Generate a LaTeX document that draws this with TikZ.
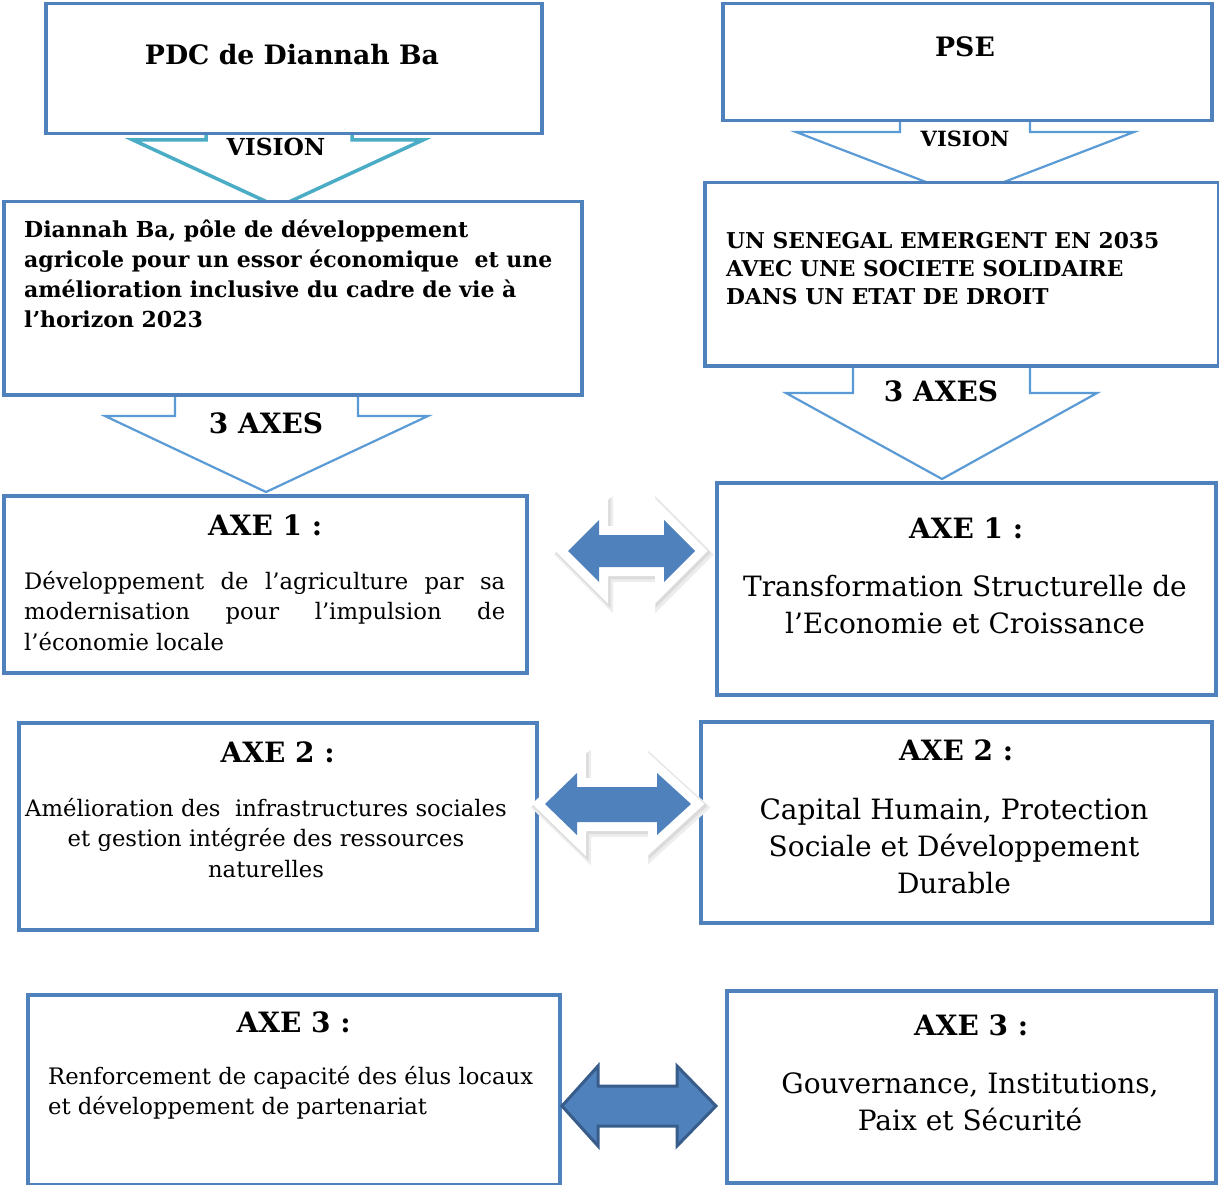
\documentclass[tikz,border=0pt]{standalone}
\usepackage{fontspec}
\setmainfont{DejaVu Serif}
\usepackage{tikz}
\usetikzlibrary{positioning,backgrounds}
\definecolor{bleubord}{HTML}{4F81BD}
\definecolor{bleuclair}{HTML}{5B9BD5}
\definecolor{turquoise}{HTML}{4BACC6}
\definecolor{bleufonce}{HTML}{385D8A}
\tikzset{
    cadre/.style={
        rectangle,
        draw=bleubord, % bordure bleue
        fill=white,
        line width=3.5pt,
        anchor=north west,
        inner sep=0
    },
    titre/.style={
        inner sep=0,
        font=\bfseries\fontsize{28}{32}\selectfont
    },
    gras/.style={
        inner sep=0,
        align=left,
        font=\bfseries\fontsize{22}{30}\selectfont
    },
    texteg/.style={
        inner sep=0,
        font=\fontsize{22.7}{30.5}\selectfont
    },
    texted/.style={
        inner sep=0,
        align=center,
        font=\fontsize{28}{37}\selectfont
    },
    descente/.style={
        draw=bleuclair,
        fill=white,
        line width=2.2pt
    },
    flechedouble/.style={
        fill=bleubord,
        line join=miter,
        preaction={draw=black!7, line width=23pt, line join=miter,
            transform canvas={shift={(2.5pt,-3.5pt)}}},
        preaction={draw=black!14, line width=20pt, line join=miter,
            transform canvas={shift={(1.5pt,-2pt)}}},
        preaction={draw=white, line width=18pt, line join=miter}
    }
}
\begin{document}
\begin{tikzpicture}[x=1pt, y=-1pt]
    \useasboundingbox (0,0) rectangle (1219,1185);
    % cadres PDC
    \node[cadre, minimum width=496pt, minimum height=130pt] (pdc) at (44,2) {};
    \node[cadre, minimum width=578pt, minimum height=193pt] (visiong) at (2,200) {};
    \node[cadre, minimum width=523pt, minimum height=177pt] (axeg1) at (2,494) {};
    \node[cadre, minimum width=518pt, minimum height=207pt] (axeg2) at (17,721) {};
    \node[cadre, minimum width=532pt, minimum height=190pt] (axeg3) at (26,993) {};
    % cadres PSE
    \node[cadre, minimum width=489pt, minimum height=117pt] (pse) at (721,2) {};
    \node[cadre, minimum width=514pt, minimum height=183pt] (visiond) at (703,181) {};
    \node[cadre, minimum width=499pt, minimum height=212pt] (axed1) at (715,481) {};
    \node[cadre, minimum width=511pt, minimum height=201pt] (axed2) at (699,720) {};
    \node[cadre, minimum width=489pt, minimum height=192pt] (axed3) at (725,989) {};

    % fleches vers le bas
    \begin{pgfonlayer}{background}
        \draw[descente, draw=turquoise, line width=3.5pt] (206,120) -- (206,140) -- (133,140) -- (278,207)
            -- (423,140) -- (352,140) -- (352,120) -- cycle;
        \draw[descente] (900,110) -- (900,132) -- (796,132) -- (965,197)
            -- (1134,132) -- (1030,132) -- (1030,110) -- cycle;
        \draw[descente] (175,385) -- (175,416) -- (105,416) -- (266,492)
            -- (428,416) -- (358,416) -- (358,385) -- cycle;
        \draw[descente] (853,355) -- (853,393) -- (786,393) -- (942,479)
            -- (1097,393) -- (1030,393) -- (1030,355) -- cycle;
    \end{pgfonlayer}

    % textes PDC
    \node[titre, font=\bfseries\fontsize{26.7}{30}\selectfont] (tpdc) at (292,55) {PDC de Diannah Ba};
    \node[titre, font=\bfseries\fontsize{23.4}{26}\selectfont] (vg) at (276,147) {VISION};
    \node[gras, anchor=north west] (tvg) at (24,220) {Diannah Ba, pôle de développement\\
        agricole pour un essor économique \ et une\\
        amélioration inclusive du cadre de vie à\\
        l’horizon 2023};
    \node[titre] (ag) at (266,423) {3 AXES};
    \node[titre] (tg1) at ([yshift=-31pt]axeg1.north) {AXE 1 :};
    \node[texteg, anchor=west, text width=481pt, align=justify] (dg1) at (24,611)
        {Développement de l’agriculture par sa\linebreak
        modernisation pour l’impulsion de\linebreak
        l’économie locale};
    \node[titre] (tg2) at ([yshift=-31pt]axeg2.north) {AXE 2 :};
    \node[texteg, align=center] (dg2) at (266,838) {Amélioration des \ infrastructures sociales\\
        et gestion intégrée des ressources\\ naturelles};
    \node[titre] (tg3) at ([yshift=-29pt]axeg3.north) {AXE 3 :};
    \node[texteg, anchor=west, align=left] (dg3) at (48,1093) {Renforcement de capacité des élus locaux\\
        et développement de partenariat};

    % textes PSE
    \node[titre, font=\bfseries\fontsize{26.7}{30}\selectfont] (tpse) at (965,47) {PSE};
    \node[titre, font=\bfseries\fontsize{21}{24}\selectfont] (vd) at (965,139) {VISION};
    \node[gras, anchor=west, font=\bfseries\fontsize{21.8}{28}\selectfont] (tvd) at (726,269)
        {UN SENEGAL EMERGENT EN 2035\\ AVEC UNE SOCIETE SOLIDAIRE\\ DANS UN ETAT DE DROIT};
    \node[titre] (ad) at (941,391) {3 AXES};
    \node[titre] (td1) at ([yshift=-47pt]axed1.north) {AXE 1 :};
    \node[texted] (dd1) at (965,605) {Transformation Structurelle de\\ l’Economie et Croissance};
    \node[titre] (td2) at ([yshift=-30pt]axed2.north) {AXE 2 :};
    \node[texted] (dd2) at (954,846) {Capital Humain, Protection\\ Sociale et Développement\\ Durable};
    \node[titre] (td3) at ([yshift=-36pt]axed3.north) {AXE 3 :};
    \node[texted] (dd3) at (970,1102) {Gouvernance, Institutions,\\ Paix et Sécurité};

    % fleches doubles entre les axes
    \path[flechedouble] (568,551) -- (599,520) -- (599,535) -- (664,535) -- (664,520) -- (695,551)
        -- (664,582) -- (664,567) -- (599,567) -- (599,582) -- cycle;
    \path[flechedouble] (545,804) -- (577,773) -- (577,787) -- (657,787) -- (657,773) -- (691,804)
        -- (657,835) -- (657,822) -- (577,822) -- (577,835) -- cycle;
    \draw[fill=bleubord, draw=bleufonce, line width=3pt, line join=miter]
        (562,1106) -- (598,1066) -- (598,1086) -- (677,1086) -- (677,1066) -- (716,1106)
        -- (677,1146) -- (677,1126) -- (598,1126) -- (598,1146) -- cycle;
\end{tikzpicture}
\end{document}
